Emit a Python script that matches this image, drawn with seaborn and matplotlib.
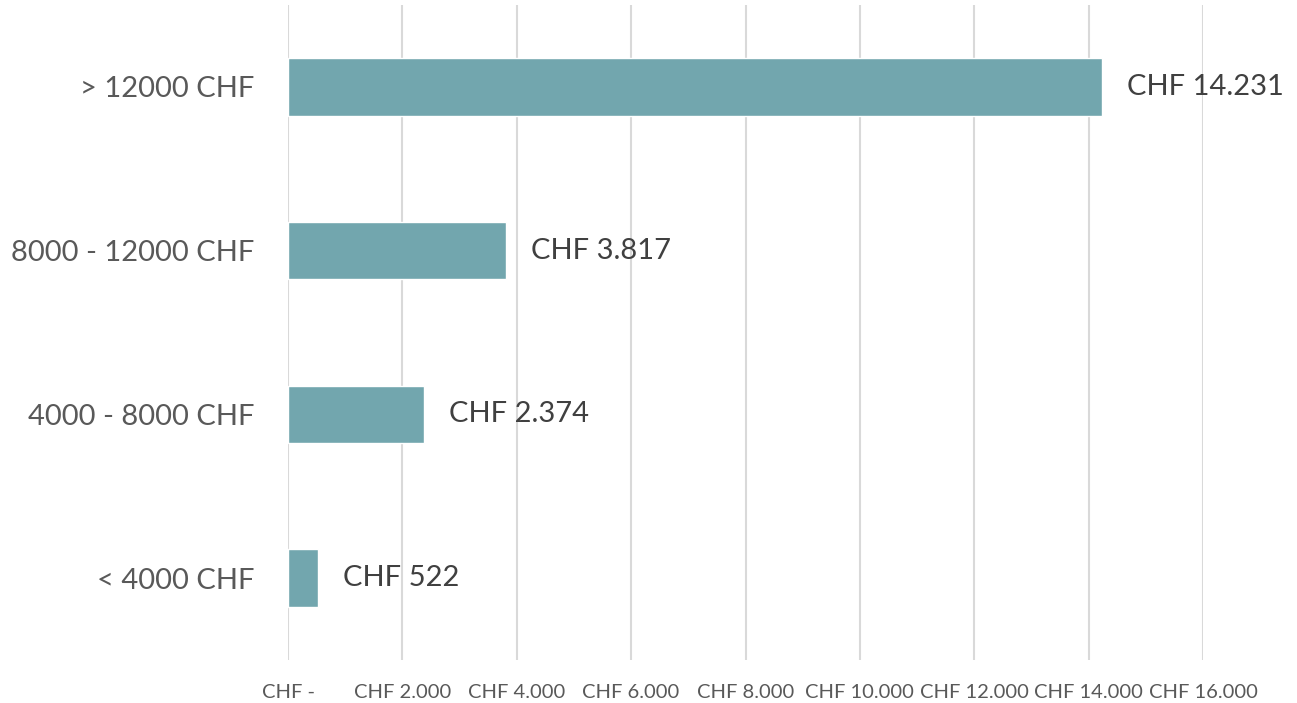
import pandas
import matplotlib
matplotlib.use("Agg")
import matplotlib.pyplot as plt
import seaborn as sns

categories = ["> 12000 CHF", "8000 - 12000 CHF", "4000 - 8000 CHF", "< 4000 CHF"]
values = [14231, 3817, 2374, 522]
value_labels = ["CHF 14.231", "CHF 3.817", "CHF 2.374", "CHF 522"]
xticks = [0, 2000, 4000, 6000, 8000, 10000, 12000, 14000, 16000]
xtick_labels = ["CHF -", "CHF 2.000", "CHF 4.000", "CHF 6.000", "CHF 8.000",
                "CHF 10.000", "CHF 12.000", "CHF 14.000", "CHF 16.000"]

df = pandas.DataFrame({"category": categories, "value": values})

sns.set_style("white")
plt.rcParams["font.family"] = ["Lato", "DejaVu Sans"]

fig = plt.figure(figsize=(12.97, 7.03), dpi=100)
ax = fig.add_axes([288 / 1297, 1 - 660 / 703, (1203 - 288) / 1297, 655 / 703])

sns.barplot(df, x="value", y="category", orient="h", color="#72A6AE",
            saturation=1, width=0.35, ax=ax, zorder=3)

# value labels right of each bar
for i, (v, lab) in enumerate(zip(values, value_labels)):
    ax.annotate(lab, (v, i), xytext=(25, 0), textcoords="offset pixels",
                va="center", ha="left", fontsize=21, color="#404040")

ax.set_xlim(0, 16000)
ax.set_ylim(3.5, -0.5)
ax.set_xticks(xticks)
ax.set_xticklabels(xtick_labels, fontsize=14.5, color="#595959")
ax.tick_params(axis="x", length=0, pad=17)
ax.tick_params(axis="y", length=0, pad=24, labelsize=21, labelcolor="#595959")
ax.grid(axis="x", color="#d9d9d9", linewidth=1.5, zorder=0)
ax.grid(axis="y", visible=False)
for s in ax.spines.values():
    s.set_visible(False)
ax.set_xlabel("")
ax.set_ylabel("")

plt.savefig("out.png", dpi=100)
